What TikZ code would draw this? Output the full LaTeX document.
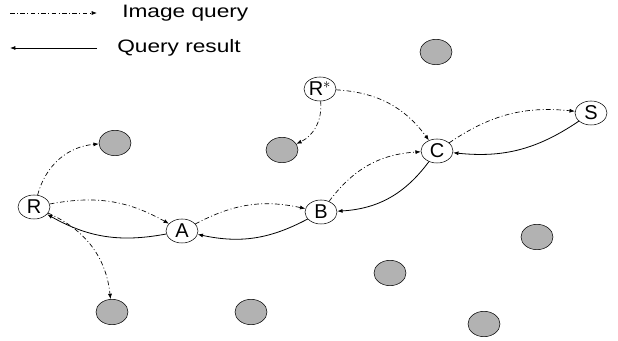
\documentclass[tikz,border=0pt]{standalone}
\usepackage{fontspec}
\setmainfont{Liberation Sans}
\usetikzlibrary{arrows.meta, shapes.geometric}

\tikzset{
  peer/.style = {draw, ellipse, fill=white, inner sep=0pt, minimum width=24pt, minimum height=18pt, font=\fontsize{15}{15}\selectfont},
  other/.style = {draw, ellipse, fill=black!30, inner sep=0pt, minimum width=24pt, minimum height=19pt},
  query/.style = {-{Latex[length=4pt,width=3pt]}, dash pattern=on 3.5pt off 1.8pt on 0.7pt off 1.8pt, line width=0.5pt},
  answer/.style = {-{Latex[length=4pt,width=3pt]}, line width=0.6pt},
  legend/.style = {anchor=west, inner sep=0pt, font=\fontsize{13.5}{13.5}\selectfont}
}

\begin{document}
\begin{tikzpicture}[x=0.75pt, y=-0.75pt]
\useasboundingbox (0,0) rectangle (618,341);
% legend
\coordinate (q1) at (10,13);
\coordinate (q2) at (97,13);
\coordinate (r1) at (97,48);
\coordinate (r2) at (10,48);
\draw [query] (q1) -- (q2);
\draw [answer] (r1) -- (r2);
\node[legend] (lq) at (122,13) {\scalebox{1.26}[1]{Image query}};
\node[legend] (lr) at (117,48) {\scalebox{1.26}[1]{Query result}};
% peers
\node[peer] (R) at (34,207) {R};
\node[peer] (A) at (182,231) {A};
\node[peer] (B) at (321,212) {B};
\node[peer] (C) at (437,151) {C};
\node[peer] (S) at (591,113) {S};
\node[peer] (Rs) at (320,89) {R$^*$};
% other hosts
\node[other] (g1) at (115,143) {};
\node[other] (g2) at (282,150) {};
\node[other] (g3) at (436,52) {};
\node[other] (g4) at (537,237) {};
\node[other] (g5) at (390,273) {};
\node[other] (g6) at (112,312) {};
\node[other] (g7) at (251,312) {};
\node[other] (g8) at (484,324) {};
% image queries
\path [query] (R) edge[bend left=35] (g1);
\path [query] (R) edge[bend left=20] (A);
\path [query] (R) edge[bend left=30] (g6);
\path [query] (A) edge[bend left=20] (B);
\path [query] (B) edge[bend left=25] (C);
\path [query] (C) edge[bend left=20] (S);
\path [query] (Rs) edge[bend left=25] (C);
\path [query] (Rs) edge[bend left=35] (g2);
% query results
\path [answer] (S) edge[bend left=20] (C);
\path [answer] (C) edge[bend left=25] (B);
\path [answer] (B) edge[bend left=20] (A);
\path [answer] (A) edge[bend left=20] (R);
\end{tikzpicture}
\end{document}
